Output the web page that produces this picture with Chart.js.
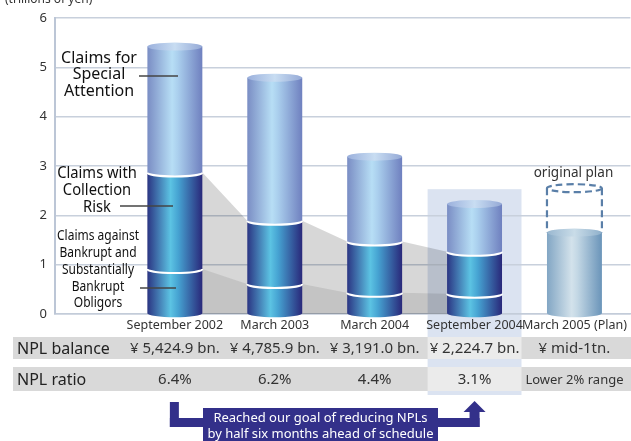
<!DOCTYPE html>
<html>
<head>
<meta charset="utf-8">
<script src="https://cdn.jsdelivr.net/npm/chart.js@4/dist/chart.umd.min.js"></script>
<style>
  html, body { margin: 0; padding: 0; background: #fff; }
</style>
</head>
<body>
<canvas id="chart" width="631" height="441"></canvas>
<script>
// values (trillions of yen)
const categories = ['September 2002', 'March 2003', 'March 2004', 'September 2004', 'March 2005 (Plan)'];
const bankrupt = [0.91, 0.61, 0.43, 0.41];
const collectionRisk = [1.96, 1.28, 1.04, 0.85];
const specialAttention = [2.55, 2.90, 1.72, 0.97];
const planValue = [1.65];
const originalPlan = [2.55];
const yTicks = [0, 1, 2, 3, 4, 5, 6];
const nplBalance = ['¥ 5,424.9 bn.', '¥ 4,785.9 bn.', '¥ 3,191.0 bn.', '¥ 2,224.7 bn.', '¥ mid-1tn.'];
const nplRatio = ['6.4%', '6.2%', '4.4%', '3.1%', 'Lower 2% range'];
const highlightIndex = 3;

const FONT = "'Noto Sans', 'Open Sans', sans-serif";
const BAR_PCT = 0.55;
const HALF = BAR_PCT / 2;
const RY = 4;

const midLine = bankrupt.map((v, i) => v + collectionRisk[i]);
const xy = (vals, start = 0) => vals.map((v, i) => ({ x: i + start, y: v }));
// flat under each bar, sloping across the gaps between bars
const shade = vals => vals.flatMap((v, i) => [{ x: i - HALF, y: v }, { x: i + HALF, y: v }]);

const TONES = {
  light: [[0, '#7a8dc4'], [0.45, '#b7def5'], [0.55, '#abd0ee'], [1, '#6f80bf']],
  dark: [[0, '#2b3583'], [0.42, '#5cc3e3'], [0.56, '#46a3d2'], [1, '#29287a']],
  plan: [[0, '#82a6c4'], [0.45, '#d3e2eb'], [0.55, '#c4d8e5'], [1, '#6a94b9']]
};
const CAPS = {
  light: [[0, '#9bb0dc'], [0.5, '#c8ddf2'], [1, '#95a9d6']],
  dark: [[0, '#3d4c98'], [0.5, '#6fcbe8'], [1, '#3a3b8a']],
  plan: [[0, '#99b7d0'], [0.5, '#c9dce8'], [1, '#8fb0cb']]
};

const hGrad = (ctx, l, r, stops) => {
  const g = ctx.createLinearGradient(l, 0, r, 0);
  stops.forEach(([o, c]) => g.addColorStop(o, c));
  return g;
};

// condensed text: squeeze horizontally around its centre
const narrowText = (ctx, t, x, y, sx) => {
  ctx.save();
  ctx.translate(x, y);
  ctx.scale(sx, 1);
  ctx.fillText(t, 0, 0);
  ctx.restore();
};

const cylinders = {
  id: 'cylinders',
  beforeDraw(chart) {
    // highlighted column (September 2004), behind grid and shading
    const { ctx, scales: { x, y } } = chart;
    const cx = x.getPixelForValue(highlightIndex);
    const hw = (x.getPixelForValue(1) - x.getPixelForValue(0)) * 0.47;
    const top = y.getPixelForValue(2.53);
    ctx.save();
    ctx.fillStyle = '#dbe3f1';
    ctx.fillRect(cx - hw, top, hw * 2, 395 - top);
    ctx.restore();
  },
  afterDatasetsDraw(chart) {
    const { ctx, scales: { y } } = chart;
    const stacks = {};
    chart.data.datasets.forEach((ds, d) => {
      const meta = chart.getDatasetMeta(d);
      if (meta.type !== 'bar') return;
      meta.data.forEach((el, j) => {
        const k = ds.data[j].x;
        (stacks[k] = stacks[k] || []).push({ el, tone: ds.tone });
      });
    });
    ctx.save();
    Object.values(stacks).forEach(segs => {
      segs.sort((a, b) => b.el.base - a.el.base);
      segs.forEach(({ el, tone }) => {
        const rx = el.width / 2, l = el.x - rx, r = el.x + rx;
        ctx.beginPath();
        ctx.moveTo(l, el.y);
        ctx.lineTo(r, el.y);
        ctx.lineTo(r, el.base);
        ctx.ellipse(el.x, el.base, rx, RY, 0, 0, Math.PI, false);
        ctx.closePath();
        ctx.fillStyle = hGrad(ctx, l, r, TONES[tone]);
        ctx.fill();
      });
      // white seams between segments
      segs.slice(1).forEach(({ el }) => {
        ctx.beginPath();
        ctx.ellipse(el.x, el.base, el.width / 2, RY, 0, Math.PI, 0, true);
        ctx.strokeStyle = '#ffffff';
        ctx.lineWidth = 2;
        ctx.stroke();
      });
      const top = segs[segs.length - 1];
      const rx = top.el.width / 2;
      ctx.beginPath();
      ctx.ellipse(top.el.x, top.el.y, rx, RY, 0, 0, Math.PI * 2);
      ctx.fillStyle = hGrad(ctx, top.el.x - rx, top.el.x + rx, CAPS[top.tone]);
      ctx.fill();
      if (top.tone === 'plan') {
        const oy = y.getPixelForValue(originalPlan[0]);
        ctx.setLineDash([7, 4]);
        ctx.strokeStyle = '#5a7fa8';
        ctx.lineWidth = 2.2;
        ctx.beginPath();
        ctx.ellipse(top.el.x, oy, rx, RY, 0, 0, Math.PI * 2);
        ctx.moveTo(top.el.x - rx, oy);
        ctx.lineTo(top.el.x - rx, top.el.y);
        ctx.moveTo(top.el.x + rx, oy);
        ctx.lineTo(top.el.x + rx, top.el.y);
        ctx.stroke();
        ctx.setLineDash([]);
        ctx.fillStyle = '#333';
        ctx.font = `13.5px ${FONT}`;
        ctx.textAlign = 'center';
        ctx.textBaseline = 'middle';
        ctx.fillText('original plan', top.el.x - 1, oy - 15);
      }
    });
    ctx.restore();
  },
  afterDraw(chart) {
    const { ctx, scales: { x } } = chart;
    const cols = categories.map((c, i) => x.getPixelForValue(i));
    const hw = (cols[1] - cols[0]) * 0.47;
    ctx.save();
    ctx.textBaseline = 'middle';

    // unit label, cut off at the top
    ctx.fillStyle = '#333';
    ctx.font = `12px ${FONT}`;
    ctx.textAlign = 'left';
    ctx.fillText('(trillions of yen)', 5, 0);

    // segment labels with leader lines
    ctx.fillStyle = '#111';
    ctx.textAlign = 'center';
    ctx.font = `16px ${FONT}`;
    ['Claims for', 'Special', 'Attention'].forEach((t, i) => ctx.fillText(t, 99, 58 + i * 16.5));
    ['Claims with', 'Collection', 'Risk'].forEach((t, i) => narrowText(ctx, t, 97, 173 + i * 17, 0.92));
    ctx.font = `15px ${FONT}`;
    ['Claims against', 'Bankrupt and', 'Substantially', 'Bankrupt', 'Obligors']
      .forEach((t, i) => narrowText(ctx, t, 98, 236 + i * 16.8, 0.8));
    ctx.strokeStyle = '#444';
    ctx.lineWidth = 1.5;
    [[139, 178, 76], [120, 173, 206], [140, 176, 288]].forEach(([a, b, yy]) => {
      ctx.beginPath();
      ctx.moveTo(a, yy);
      ctx.lineTo(b, yy);
      ctx.stroke();
    });

    // table rows
    const rows = [
      { label: 'NPL balance', vals: nplBalance, top: 337, h: 22 },
      { label: 'NPL ratio', vals: nplRatio, top: 367, h: 24 }
    ];
    rows.forEach(row => {
      ctx.fillStyle = '#d9d9d9';
      ctx.fillRect(13, row.top, chart.width - 13, row.h);
      ctx.fillStyle = '#ebebeb';
      ctx.fillRect(cols[highlightIndex] - hw, row.top, hw * 2, row.h);
      const cy = row.top + row.h / 2 + 1;
      ctx.fillStyle = '#222';
      ctx.textAlign = 'left';
      ctx.font = `16px ${FONT}`;
      ctx.fillText(row.label, 17, cy);
      ctx.textAlign = 'center';
      row.vals.forEach((v, i) => {
        ctx.font = v.length > 12 && i === 4 ? `13px ${FONT}` : `15px ${FONT}`;
        ctx.fillStyle = '#333';
        ctx.fillText(v, cols[i], cy);
      });
    });

    // arrow banner
    const a = cols[0], b = cols[highlightIndex];
    ctx.fillStyle = '#33308a';
    ctx.fillRect(a - 5, 402, 9, 25);
    ctx.fillRect(a - 5, 418, 40, 9);
    ctx.fillRect(203, 408, 235, 40);
    ctx.fillRect(430, 418, b + 5 - 430, 9);
    ctx.fillRect(b - 5, 411, 10, 16);
    ctx.beginPath();
    ctx.moveTo(b - 11, 412);
    ctx.lineTo(b + 11, 412);
    ctx.lineTo(b, 401);
    ctx.closePath();
    ctx.fill();
    ctx.fillStyle = '#ffffff';
    ctx.font = `13px ${FONT}`;
    ctx.textAlign = 'center';
    ctx.fillText('Reached our goal of reducing NPLs', 320.5, 418);
    ctx.fillText('by half six months ahead of schedule', 320.5, 434);
    ctx.restore();
  }
};

new Chart(document.getElementById('chart'), {
  type: 'bar',
  data: {
    datasets: [
      { label: 'Claims against Bankrupt and Substantially Bankrupt Obligors', data: xy(bankrupt), tone: 'dark', stack: 'npl', order: 1 },
      { label: 'Claims with Collection Risk', data: xy(collectionRisk), tone: 'dark', stack: 'npl', order: 1 },
      { label: 'Claims for Special Attention', data: xy(specialAttention), tone: 'light', stack: 'npl', order: 1 },
      { label: 'March 2005 (Plan)', data: xy(planValue, 4), tone: 'plan', stack: 'npl', order: 1 },
      { type: 'line', data: shade(bankrupt), stack: 'shadeLow', fill: 'origin', order: 2,
        backgroundColor: 'rgba(0,0,0,0.09)', borderWidth: 0, pointRadius: 0 },
      { type: 'line', data: shade(midLine), stack: 'shadeHigh', fill: 'origin', order: 2,
        backgroundColor: 'rgba(0,0,0,0.155)', borderWidth: 0, pointRadius: 0 }
    ]
  },
  options: {
    responsive: false,
    animation: false,
    devicePixelRatio: 1,
    backgroundColor: 'rgba(0,0,0,0)',
    borderWidth: 0,
    barPercentage: BAR_PCT,
    categoryPercentage: 1,
    layout: { padding: { top: 18, right: 0, bottom: 0, left: 0 } },
    plugins: { legend: { display: false }, tooltip: { enabled: false } },
    scales: {
      x: {
        type: 'linear',
        bounds: 'data',
        offset: false,
        min: -1.2,
        max: 4.56,
        stacked: true,
        afterBuildTicks: s => { s.ticks = categories.map((c, i) => ({ value: i })); },
        afterFit: s => { s.height = 127; },
        ticks: {
          callback: v => categories[v],
          autoSkip: false,
          maxRotation: 0,
          padding: 4,
          color: '#333',
          font: { family: FONT, size: 12.5 }
        },
        grid: { display: false, drawTicks: false, offset: false },
        border: { color: '#c3ccd9', width: 1.5 }
      },
      y: {
        min: 0,
        max: 6,
        stacked: true,
        afterBuildTicks: s => { s.ticks = yTicks.map(v => ({ value: v })); },
        afterFit: s => { s.width = 55; },
        ticks: { padding: 8, color: '#333', font: { family: FONT, size: 13 } },
        grid: { color: '#c8d0dc', lineWidth: 1.5, drawTicks: false },
        border: { color: '#bcc6d6', width: 2 }
      }
    }
  },
  plugins: [cylinders]
});
</script>
</body>
</html>
